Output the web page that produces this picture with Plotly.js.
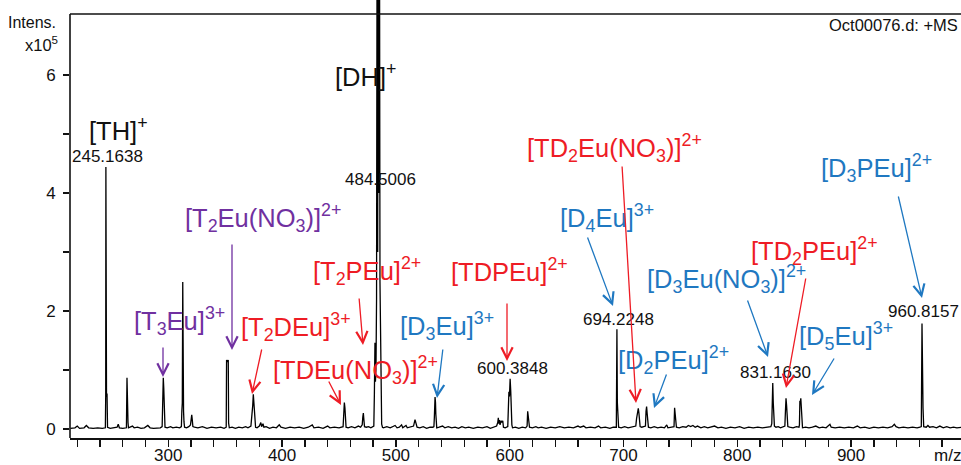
<!DOCTYPE html>
<html><head><meta charset="utf-8">
<script src="https://cdn.plot.ly/plotly-3.0.1.min.js"></script>
<style>html,body{margin:0;padding:0;background:#fff;}#chart{width:961px;height:465px;}</style>
</head><body><div id="chart"></div>
<script>
// ---- DATA: profile of the mass spectrum, [m/z, intensity (x1e5)] ----
const spectrum = [
[214,0.01],[218,0.02],[220,0.05],[222,0.01],[226,0.02],[228,0.06],[230,0.02],[234,0.01],[238,0.02],[242,0.01],
[244.7,0.02],[245.0,0.58],[245.16,4.44],[245.35,1.47],[245.7,0.55],[246.16,0.6],[246.6,0.03],
[249,0.01],[252,0.02],[255,0.03],[256,0.08],[257,0.02],[260,0.01],
[263.2,0.02],[263.7,0.87],[264.1,0.2],[264.6,0.11],[265.0,0.02],
[267,0.04],[268.5,0.05],[270,0.02],[273,0.03],[276,0.01],[279,0.02],[282,0.06],[284,0.02],[287,0.01],[290,0.02],[293,0.02],
[294.6,0.04],[295.0,0.3],[295.3,0.6],[295.6,0.87],[296.0,0.7],[296.3,0.4],[296.7,0.15],[297.1,0.03],
[299,0.02],[302,0.04],[304,0.02],[307,0.03],[310,0.02],
[311.5,0.04],[311.9,0.3],[312.3,0.44],[312.7,2.49],[313.0,0.42],[313.4,0.3],[313.8,0.12],[314.3,0.03],
[316,0.02],[318,0.04],[319.5,0.07],[320.1,0.2],[320.6,0.24],[321.1,0.15],[321.6,0.04],[323,0.03],[326,0.02],[330,0.04],[334,0.01],[338,0.03],[342,0.02],[346,0.03],[349,0.01],
[350.9,0.03],[351.2,1.17],[351.8,1.15],[352.3,1.14],[352.7,1.17],[353.0,0.1],[353.6,0.02],
[356,0.03],[359,0.01],[362,0.03],[365,0.02],[368,0.04],[370,0.02],
[372.6,0.05],[373.2,0.17],[373.7,0.22],[374.2,0.4],[374.7,0.59],[375.1,0.48],[375.6,0.25],[376.1,0.07],[376.7,0.03],
[378,0.02],[380,0.05],[381.3,0.11],[382,0.04],[383.2,0.09],[384,0.03],[386,0.04],[389,0.01],[392,0.03],[395,0.02],[397.5,0.07],[399,0.03],
[403,0.01],[407,0.03],[411,0.02],[415,0.03],[419,0.01],[423,0.03],[426.5,0.07],[428,0.02],[432,0.03],[436,0.01],[440,0.05],[442,0.02],[446,0.03],[450,0.02],
[453.6,0.04],[454.1,0.28],[454.7,0.45],[455.2,0.36],[455.7,0.14],[456.2,0.03],
[458,0.02],[461,0.04],[464,0.02],[467,0.05],[469,0.03],
[470.4,0.07],[470.9,0.2],[471.4,0.27],[471.9,0.15],[472.4,0.04],
[474,0.03],[476,0.04],[478,0.02],[480.6,0.05],
[481.1,0.6],[481.6,1.46],[482.0,0.8],[482.5,1.0],[483.0,2.2],[483.5,9.0],[484.0,3.0],[484.5,14.0],[485.0,4.0],[485.5,10.0],[486.0,2.5],[486.6,1.76],[487.0,0.6],[487.5,0.08],[488.2,0.03],
[489,0.02],[492,0.04],[495,0.02],[499.3,0.06],[501,0.02],[503,0.03],[505,0.07],[506,0.02],[508.9,0.06],[510,0.02],[513,0.03],[515.5,0.05],[516.8,0.16],[517.3,0.11],[518,0.09],[518.6,0.03],
[521,0.02],[524,0.04],[527,0.01],[530,0.03],[532.5,0.03],
[533.4,0.04],[533.8,0.2],[534.1,0.4],[534.4,0.54],[534.8,0.45],[535.1,0.25],[535.5,0.07],[535.9,0.02],
[538,0.03],[541,0.05],[543,0.02],[546,0.04],[549,0.02],[552,0.03],[555,0.01],[558,0.04],[561,0.02],[564,0.03],[568,0.01],[572,0.03],[576,0.02],[580,0.04],[583,0.01],[586,0.03],[588.5,0.05],
[589.5,0.11],[590,0.19],[590.5,0.09],[591,0.15],[591.5,0.07],[592.5,0.14],[593.2,0.11],[593.9,0.14],[594.5,0.03],
[596,0.02],[598.3,0.04],[598.8,0.35],[599.3,0.63],[599.8,0.55],[600.38,0.85],[600.9,0.65],[601.4,0.3],[601.9,0.07],[602.5,0.02],
[605,0.03],[608,0.01],[611,0.03],[614,0.02],[615.3,0.05],[615.8,0.3],[616.3,0.2],[616.8,0.09],[617.4,0.03],
[620,0.02],[623,0.04],[625,0.02],[628,0.03],[632,0.01],[636,0.03],[640,0.02],[644,0.04],[648,0.02],[652,0.03],[656,0.02],[660,0.05],[662,0.03],[665,0.05],[667,0.02],[671,0.03],[675,0.02],[678,0.05],[680,0.02],[684,0.03],[688,0.01],[691,0.03],
[693.7,0.03],[694.22,1.69],[694.6,0.45],[695.2,0.25],[695.7,0.03],
[698,0.02],[701,0.04],[704,0.02],[707,0.03],[709.5,0.04],
[710.8,0.05],[711.5,0.18],[712.0,0.22],[712.5,0.26],[713.0,0.35],[713.5,0.28],[714.0,0.14],[714.6,0.04],
[716,0.03],[718,0.04],[719.3,0.05],[719.8,0.3],[720.3,0.38],[720.8,0.26],[721.3,0.12],[721.9,0.03],
[724,0.02],[727,0.04],[730,0.02],[733,0.03],[736,0.02],[738,0.07],[739,0.02],[742,0.03],
[744.4,0.04],[744.9,0.36],[745.4,0.26],[745.9,0.12],[746.5,0.03],
[749,0.02],[752,0.04],[755,0.03],[757,0.06],[759,0.04],[761,0.06],[763,0.03],[765,0.05],[768,0.02],[771,0.04],[774,0.02],[777,0.03],[780,0.05],[783,0.02],[786,0.03],[790,0.01],[794,0.03],[798,0.02],
[802,0.04],[806,0.01],[810,0.03],[814,0.02],[818,0.03],[822,0.02],[826,0.03],[829.5,0.04],
[830.3,0.09],[830.6,0.46],[830.9,0.3],[831.16,0.78],[831.6,0.45],[832.1,0.25],[832.6,0.05],
[834,0.03],[836,0.04],[838,0.02],[840.5,0.04],
[841.8,0.05],[842.3,0.3],[842.8,0.52],[843.3,0.4],[843.8,0.2],[844.4,0.04],
[846,0.03],[849,0.02],[852,0.04],[854.2,0.03],
[854.6,0.07],[855.0,0.48],[855.4,0.44],[855.8,0.52],[856.2,0.3],[856.7,0.06],[857.3,0.02],
[860,0.03],[863,0.02],[866,0.03],[869,0.05],[872,0.02],[875,0.03],[878,0.02],[881.4,0.08],[882.5,0.03],[886,0.02],[890,0.03],[894,0.02],[898,0.03],
[902,0.02],[905.5,0.05],[906.5,0.04],[908,0.02],[912,0.03],[916,0.01],[920,0.03],[924,0.02],[928,0.03],[932,0.02],[936,0.04],[938,0.08],[939.5,0.04],[942,0.02],[946,0.03],[950,0.02],[954,0.03],[958,0.02],[960.5,0.03],
[961.7,0.04],[962.3,1.79],[962.7,0.42],[963.2,0.36],[963.8,0.04],
[966,0.03],[967.5,0.06],[969,0.03],[972,0.04],[975,0.02],[978,0.05],[981,0.02],[984,0.04],[987,0.02],[990,0.03],[993,0.02],[997,0.03]
];
const mz = spectrum.map(p => p[0]);
const intensity = spectrum.map(p => p[1]);

// tick labels
const xTickVals = [220,240,260,280,300,320,340,360,380,400,420,440,460,480,500,520,540,560,580,600,620,640,660,680,700,720,740,760,780,800,820,840,860,880,900,920,940,960,980];
const xTickText = ['','','','','300','','','','','400','','','','','500','','','','','600','','','','','700','','','','','800','','','','','900','','','',''];
const yTickVals = [0,1,2,3,4,5,6];
const yTickText = ['0','','2','','4','','6'];

// peak m/z labels
const massLabels = ['245.1638','484.5006','600.3848','694.2248','831.1630','960.8157'];

// ion assignments
const ionLabels = [
  '[TH]<sup>+</sup>',
  '[DH]<sup>+</sup>',
  '[T<sub>2</sub>Eu(NO<sub>3</sub>)]<sup>2+</sup>',
  '[T<sub>3</sub>Eu]<sup>3+</sup>',
  '[T<sub>2</sub>DEu]<sup>3+</sup>',
  '[TDEu(NO<sub>3</sub>)]<sup>2+</sup>',
  '[T<sub>2</sub>PEu]<sup>2+</sup>',
  '[D<sub>3</sub>Eu]<sup>3+</sup>',
  '[TDPEu]<sup>2+</sup>',
  '[D<sub>4</sub>Eu]<sup>3+</sup>',
  '[TD<sub>2</sub>Eu(NO<sub>3</sub>)]<sup>2+</sup>',
  '[D<sub>3</sub>Eu(NO<sub>3</sub>)]<sup>2+</sup>',
  '[TD<sub>2</sub>PEu]<sup>2+</sup>',
  '[D<sub>2</sub>PEu]<sup>2+</sup>',
  '[D<sub>5</sub>Eu]<sup>3+</sup>',
  '[D<sub>3</sub>PEu]<sup>2+</sup>'
];
const ionGroups = ['k','k','p','p','r','r','r','b','r','b','r','b','r','b','b','b'];

// ---- LAYOUT / STYLE ----
const groupColor = {k:'#111111', p:'#7030A0', r:'#EE1C25', b:'#1F78C1'};
const FONT = 'Liberation Sans, Arial, sans-serif';
// pixel -> axis coordinate helpers (layout positioning only)
const X0 = 168.3, XS = 1.138, Y0 = 429, YS = 59;
const toX = px => 300 + (px - X0) / XS;
const toY = py => (Y0 - py) / YS;
const PL = 70, PR = 961, PB = 438, PT = 0;
const toPX = px => (px - PL) / (PR - PL);
const toPY = py => (PB - py) / (PB - PT);

// label positions: [left px, center-y px]
const ionPos = [
  [87,129],[333,75],[183,218],[132,321],[239,327],[271,370],[311,271],[398,326],
  [449,270],[558,218],[525,148],[645,279],[749,251],[616,360],[797,336],[819,168]
];
const massPos = [[107,156],[380,179],[512,368],[618,319],[775,372],[923,311]];
// arrows: [color group, tail px x, tail px y, head px x, head px y]
const arrows = [
  ['p',232,243,232,350],
  ['p',163,346,163,377],
  ['r',262,348,252,394],
  ['r',328,380,341,405],
  ['r',359,297,363,345],
  ['b',443,348,437,398],
  ['r',507,302,507,361],
  ['b',587,236,613,306],
  ['r',622,165,636,403],
  ['b',747,299,768,357],
  ['r',806,277,786,388],
  ['b',667,373,654,408],
  ['b',835,357,812,395],
  ['b',898,195,922,298]
];

const annotations = [];
ionLabels.forEach((t, i) => {
  annotations.push({x: toX(ionPos[i][0]), y: toY(ionPos[i][1]), xref:'x', yref:'y',
    text: t, showarrow:false, xanchor:'left', yanchor:'middle',
    font:{family:FONT, size:25.5, color: groupColor[ionGroups[i]]}});
});
massLabels.forEach((t, i) => {
  annotations.push({x: toX(massPos[i][0]), y: toY(massPos[i][1]), xref:'x', yref:'y',
    text: t, showarrow:false, xanchor:'center', yanchor:'middle',
    font:{family:FONT, size:17, color:'#111'}});
});
arrows.forEach(a => {
  annotations.push({x: toX(a[3]), y: toY(a[4]), ax: toX(a[1]), ay: toY(a[2]),
    xref:'x', yref:'y', axref:'x', ayref:'y', text:'', showarrow:true,
    arrowhead:5, arrowsize:1.7, arrowwidth:1.3, arrowcolor: groupColor[a[0]], standoff:0, startstandoff:0});
});
annotations.push({xref:'paper', yref:'paper', x: toPX(58), y: toPY(22), xanchor:'right', yanchor:'middle',
  text:'Intens.', showarrow:false, font:{family:FONT, size:16, color:'#111'}});
annotations.push({xref:'paper', yref:'paper', x: toPX(60), y: toPY(44), xanchor:'right', yanchor:'middle',
  text:'x10<sup>5</sup>', showarrow:false, font:{family:FONT, size:16.5, color:'#111'}});
annotations.push({xref:'paper', yref:'paper', x: toPX(960), y: toPY(25), xanchor:'right', yanchor:'middle',
  text:'Oct00076.d: +MS', showarrow:false, font:{family:FONT, size:16.5, color:'#111'}});
annotations.push({xref:'paper', yref:'paper', x: toPX(947), y: toPY(455), xanchor:'center', yanchor:'middle',
  text:'m/z', showarrow:false, font:{family:FONT, size:17, color:'#111'}});

const yBottom = toY(PB), yTop = toY(PT), yFrame = toY(14);

const trace = {x: mz, y: intensity, type:'scatter', mode:'lines',
  line:{color:'#000', width:1.3}, hoverinfo:'x+y', showlegend:false};

const layout = {
  width:961, height:465,
  margin:{l:PL, r:961-PR, t:PT, b:465-PB},
  paper_bgcolor:'#fff', plot_bgcolor:'#fff',
  font:{family:FONT, size:17, color:'#111'},
  xaxis:{range:[toX(PL), toX(PR)], tickvals:xTickVals, ticktext:xTickText,
    ticks:'outside', ticklen:7, tickwidth:1.3, tickcolor:'#111', ticklabelstandoff:-6,
    showline:true, linecolor:'#111', linewidth:1.6, showgrid:false, zeroline:false,
    tickfont:{family:FONT, size:17, color:'#111'}},
  yaxis:{range:[yBottom, yTop], tickvals:yTickVals, ticktext:yTickText,
    ticks:'outside', ticklen:6, tickwidth:1.3, tickcolor:'#111', ticklabelstandoff:4,
    showline:false, showgrid:false, zeroline:false,
    tickfont:{family:FONT, size:17, color:'#111'}},
  shapes:[
    {type:'line', xref:'paper', yref:'y', x0:0, x1:0, y0:yBottom, y1:yFrame, line:{color:'#111', width:1.6}},
    {type:'line', xref:'paper', yref:'y', x0:0, x1:1, y0:yFrame, y1:yFrame, line:{color:'#111', width:1.6}}
  ],
  annotations: annotations
};

Plotly.newPlot('chart', [trace], layout, {displayModeBar:false, staticPlot:true});
</script>
</body></html>
